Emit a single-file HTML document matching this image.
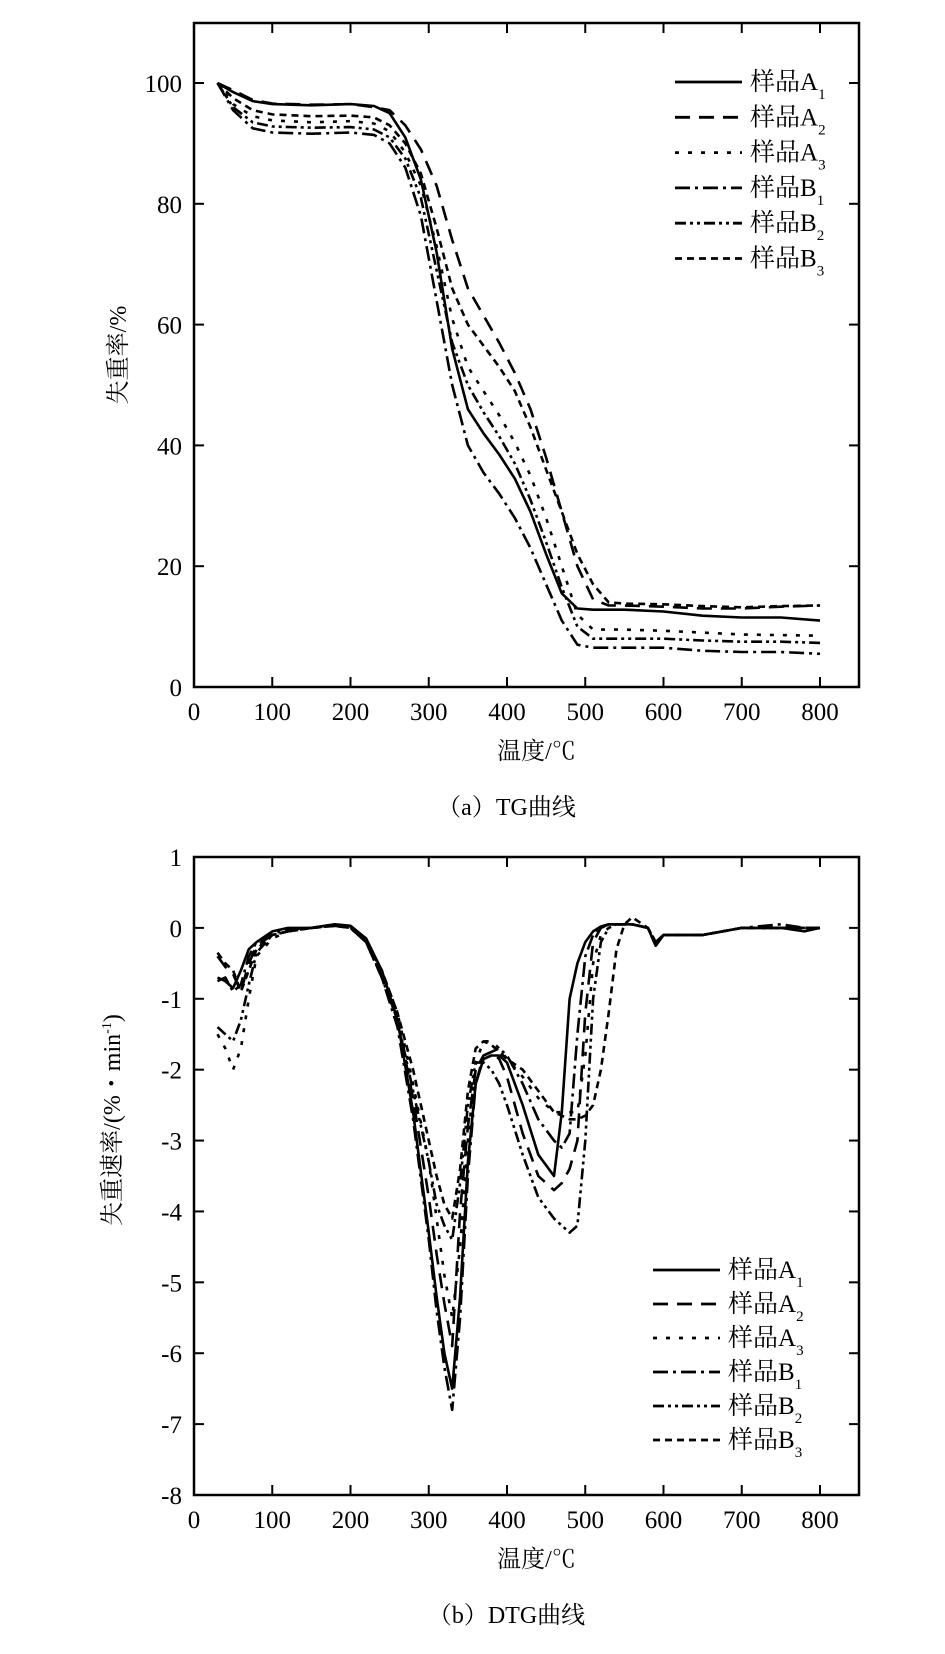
<!DOCTYPE html>
<html><head><meta charset="utf-8">
<style>
html,body{margin:0;padding:0;background:#fff;}
svg{display:block;font-family:"Liberation Serif","Noto Serif CJK SC","Noto Sans CJK SC",serif;}
</style></head>
<body>
<svg id="fig" width="945" height="1654" viewBox="0 0 945 1654">
  <g id="tg"></g>
  <g id="dtg"></g>
</svg>
<script>
// ---- TG data ----
const tgTemps = [30,50,75,100,150,200,230,250,270,290,310,330,350,370,390,410,430,450,470,490,510,530,550,600,650,700,750,800];
const tgA1 = [100,98.5,97,96.5,96.3,96.5,96.2,95,91,84,72,56,46,42,38.5,34.5,29,22,15.5,13,12.8,12.8,12.8,12.5,11.8,11.5,11.5,11];
const tgA2 = [100,98.8,97.2,96.6,96.4,96.5,96,95.5,93,89,83,74,66,61.5,57,52,46,38,29,20,14.5,13.5,13.5,13.3,13,13,13.3,13.5];
const tgA3 = [100,96.5,94.5,93.8,93.5,93.7,93.3,92,88.5,83,73,61,53,49,45,40.5,35,28,20,12,9.5,9.5,9.5,9.3,9,8.7,8.6,8.5];
const tgB1 = [100,95.5,92.5,91.8,91.6,91.8,91.4,90,86,78,64,50,40,35.5,32,28,23,17,11,7,6.5,6.5,6.5,6.5,6,5.8,5.8,5.5];
const tgB2 = [100,96,93.5,92.8,92.6,92.7,92.3,91,87.5,81,69,57,50,45.5,41.5,37,31,24,16.5,10,8,8,8,8,7.7,7.5,7.5,7.3];
const tgB3 = [100,97.5,95.5,94.8,94.5,94.6,94.3,93,90,85,76,66,60,56.5,53,49,43,36,29,22,17,14,13.8,13.7,13.4,13.2,13.4,13.5];
const tgXTicks = [0,100,200,300,400,500,600,700,800];
const tgYTicks = [0,20,40,60,80,100];

// ---- DTG data ----
const dtgTemps = [30,40,50,60,70,80,100,120,150,180,200,220,240,260,280,300,310,320,330,340,350,360,370,380,390,400,420,440,460,470,480,490,500,510,520,530,540,550,560,580,590,600,650,700,750,780,800];
const dtgA1 = [-0.7,-0.75,-0.85,-0.6,-0.3,-0.2,-0.05,0,0,0.05,0.03,-0.15,-0.6,-1.3,-2.6,-4.3,-5.2,-6.0,-6.5,-5.2,-3.3,-2.2,-1.85,-1.8,-1.8,-1.9,-2.5,-3.2,-3.5,-2.6,-1.0,-0.5,-0.2,-0.05,0.02,0.05,0.05,0.05,0.05,0,-0.25,-0.1,-0.1,0,0,-0.05,0];
const dtgA2 = [-0.4,-0.55,-0.65,-0.9,-0.5,-0.25,-0.1,-0.05,0,0.03,0,-0.2,-0.7,-1.3,-2.4,-3.8,-4.6,-5.3,-5.9,-4.0,-2.8,-2.0,-1.8,-1.75,-1.85,-2.1,-2.9,-3.5,-3.7,-3.6,-3.4,-3.0,-1.2,-0.2,0,0.05,0.05,0.05,0.05,0,-0.25,-0.1,-0.1,0,0,0,0];
const dtgA3 = [-1.5,-1.7,-2.0,-1.7,-1.0,-0.4,-0.15,-0.05,0,0.05,0.02,-0.2,-0.6,-1.2,-2.2,-3.3,-4.1,-4.9,-5.5,-4.5,-3.0,-1.9,-1.6,-1.6,-1.7,-1.85,-2.1,-2.4,-2.6,-2.6,-2.6,-2.6,-1.8,-0.5,-0.1,0,0.05,0.05,0.05,0,-0.2,-0.1,-0.1,0,0,0,0];
const dtgB1 = [-0.75,-0.7,-0.9,-0.8,-0.4,-0.2,-0.08,-0.02,0,0.05,0.02,-0.15,-0.7,-1.4,-2.7,-4.4,-5.4,-6.2,-6.8,-5.5,-3.5,-2.2,-1.8,-1.75,-1.7,-1.8,-2.2,-2.7,-3.0,-3.1,-2.9,-1.5,-0.4,-0.1,0,0.05,0.05,0.05,0.05,0,-0.2,-0.1,-0.1,0,0.05,0,0];
const dtgB2 = [-1.4,-1.5,-1.6,-1.3,-0.8,-0.35,-0.1,-0.05,0,0.03,0,-0.2,-0.7,-1.3,-2.3,-3.3,-3.9,-4.2,-4.4,-3.6,-2.5,-1.9,-1.9,-2.0,-2.2,-2.5,-3.2,-3.8,-4.1,-4.2,-4.3,-4.2,-3.0,-1.0,-0.2,0,0.05,0.05,0.05,0,-0.2,-0.1,-0.1,0,0,0,0];
const dtgB3 = [-0.35,-0.5,-0.6,-0.9,-0.6,-0.3,-0.1,-0.05,0,0.03,0,-0.2,-0.6,-1.2,-2.0,-3.0,-3.5,-3.9,-4.1,-3.4,-2.3,-1.7,-1.6,-1.65,-1.75,-1.85,-2.0,-2.3,-2.6,-2.65,-2.7,-2.7,-2.65,-2.5,-2.0,-1.2,-0.3,0.05,0.15,0,-0.25,-0.1,-0.1,0,0,0,0];
const dtgXTicks = [0,100,200,300,400,500,600,700,800];
const dtgYTicks = [1,0,-1,-2,-3,-4,-5,-6,-7,-8];

const seriesNames = ["A","A","A","B","B","B"];
const seriesSubs = ["1","2","3","1","2","3"];
const dashes = ["", "15,9", "4,9", "15,5,3,5", "11,4,3,4,3,4", "7,5"];

const NS = "http://www.w3.org/2000/svg";
function mk(tag, attrs, parent){
  const e = document.createElementNS(NS, tag);
  for (const k in attrs) e.setAttribute(k, attrs[k]);
  parent.appendChild(e);
  return e;
}

function drawChart(g, cfg){
  const xs = v => cfg.x0 + (v - cfg.xmin) / (cfg.xmax - cfg.xmin) * (cfg.x1 - cfg.x0);
  const ys = v => cfg.yb + (v - cfg.ymin) / (cfg.ymax - cfg.ymin) * (cfg.yt - cfg.yb);
  const fr = mk("rect", {x:cfg.x0, y:cfg.yt, width:cfg.x1-cfg.x0, height:cfg.yb-cfg.yt, fill:"none", stroke:"#000", "stroke-width":2.5}, g);
  
  
  cfg.xTicks.forEach(t => {
    const px = xs(t);
    if (t !== cfg.xmin){
      const l1 = mk("line", {x1:px, y1:cfg.yb, x2:px, y2:cfg.yb-10, stroke:"#000","stroke-width":2}, g);
      
      
      const l2 = mk("line", {x1:px, y1:cfg.yt, x2:px, y2:cfg.yt+10, stroke:"#000","stroke-width":2}, g);
      
      
    }
    const tx = mk("text", {x:px, y:cfg.yb+33, "text-anchor":"middle", "font-size":25}, g);
    tx.textContent = t;
    
    
  });
  cfg.yTicks.forEach(t => {
    const py = ys(t);
    if (t !== cfg.ymin && t !== cfg.ymax){
      const l1 = mk("line", {x1:cfg.x0, y1:py, x2:cfg.x0+10, y2:py, stroke:"#000","stroke-width":2}, g);
      
      
      const l2 = mk("line", {x1:cfg.x1, y1:py, x2:cfg.x1-10, y2:py, stroke:"#000","stroke-width":2}, g);
      
      
    }
    const tx = mk("text", {x:cfg.x0-12, y:py+9, "text-anchor":"end", "font-size":25}, g);
    tx.textContent = t;
    
    
  });
  cfg.series.forEach((vals, i) => {
    let d = "";
    vals.forEach((v, j) => { d += (j ? "L" : "M") + xs(cfg.temps[j]).toFixed(1) + "," + ys(v).toFixed(1); });
    const attrs = {d:d, fill:"none", stroke:"#000", "stroke-width":2.6, "stroke-linejoin":"round"};
    if (dashes[i]) attrs["stroke-dasharray"] = dashes[i];
    const p = mk("path", attrs, g);
    
    
  });
  seriesNames.forEach((n, i) => {
    const y = cfg.legY + i * cfg.legDy;
    const la = {x1:cfg.legX0, y1:y, x2:cfg.legX1, y2:y, stroke:"#000", "stroke-width":2.8};
    if (dashes[i]) la["stroke-dasharray"] = dashes[i];
    const l = mk("line", la, g);
    
    
    const tx = mk("text", {x:cfg.legX1+8, y:y+8, "font-size":25}, g);
    
    
    tx.appendChild(document.createTextNode("样品" + n));
    const sub = mk("tspan", {dy:9, "font-size":15}, tx);
    sub.textContent = seriesSubs[i];
  });
  const xt = mk("text", {x:(cfg.x0+cfg.x1)/2 + 10, y:cfg.yb+72, "text-anchor":"middle", "font-size":24}, g);
  xt.textContent = "温度/℃";
  
  
  const ytx = cfg.yTitleX, yty = cfg.yTitleY;
  const yt = mk("text", {x:ytx, y:yty, "text-anchor":"middle", "font-size":24, transform:"rotate(-90 "+ytx+" "+yty+")"}, g);
  
  
  if (cfg.yTitleSup){
    yt.appendChild(document.createTextNode(cfg.yTitle));
    const sp = mk("tspan", {dy:-9, "font-size":14}, yt); sp.textContent = "-1";
    const cl = mk("tspan", {dy:9}, yt); cl.textContent = ")";
  } else yt.textContent = cfg.yTitle;
  const cap = mk("text", {x:(cfg.x0+cfg.x1)/2 - 20, y:cfg.yb+128, "text-anchor":"middle", "font-size":24}, g);
  cap.textContent = cfg.caption;
  
  
}

drawChart(document.getElementById("tg"), {
  x0:194, x1:859, yt:23, yb:687, xmin:0, xmax:(859-194)/78.25*100, ymin:0, ymax:(687-23)/6.04,
  temps:tgTemps, series:[tgA1,tgA2,tgA3,tgB1,tgB2,tgB3], xTicks:tgXTicks, yTicks:tgYTicks,
  legX0:675, legX1:742, legY:82, legDy:35.3,
  yTitle:"失重率/%", yTitleX:126, yTitleY:355, caption:"（a）TG曲线"
});
drawChart(document.getElementById("dtg"), {
  x0:194, x1:859, yt:857, yb:1495, xmin:0, xmax:(859-194)/78.25*100, ymin:-8, ymax:1,
  temps:dtgTemps, series:[dtgA1,dtgA2,dtgA3,dtgB1,dtgB2,dtgB3], xTicks:dtgXTicks, yTicks:dtgYTicks,
  legX0:653, legX1:720, legY:1270, legDy:34,
  yTitle:"失重速率/(%・min", yTitleSup:true, yTitleX:120, yTitleY:1120, caption:"（b）DTG曲线"
});
</script>
</body></html>
